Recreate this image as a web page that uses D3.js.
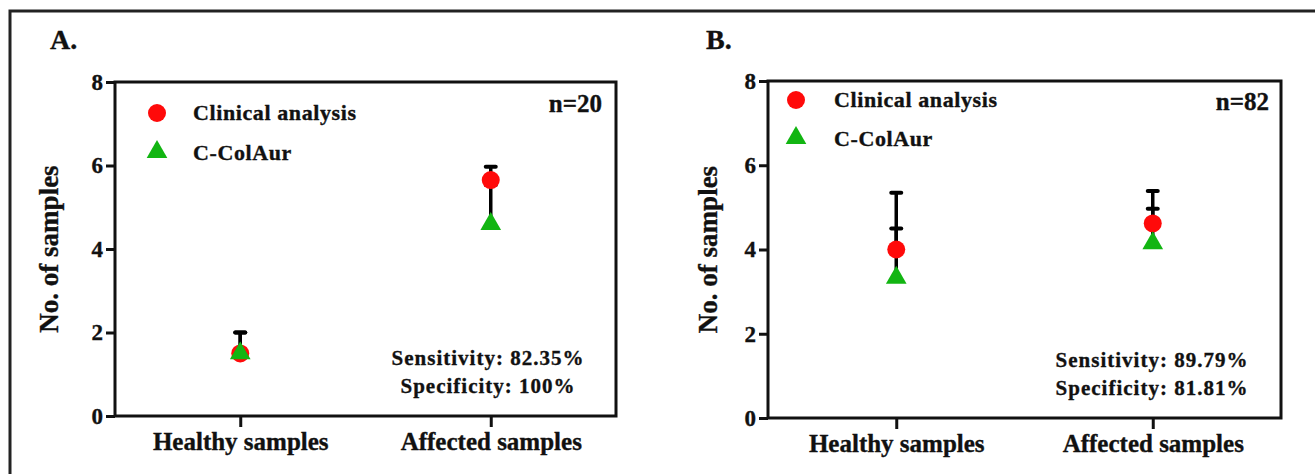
<!DOCTYPE html>
<html>
<head>
<meta charset="utf-8">
<script src="https://cdn.jsdelivr.net/npm/d3@7"></script>
<style>
  body { margin: 0; background: #fff; }
  text { font-family: "Liberation Serif", "Times New Roman", serif; font-weight: bold; fill: #111; stroke: #111; stroke-width: 0.35px; }
</style>
</head>
<body>
<script>
const W = 1315, H = 474;

// data
const categories = ["Healthy samples", "Affected samples"];
const yTicks = [0, 2, 4, 6, 8];
const seriesNames = ["Clinical analysis", "C-ColAur"];

const a_clinical = [1.5, 5.65];
const a_clinicalSD = [0.5, 0.32];
const a_colaur = [1.5, 4.6];
const a_colaurSD = [0.5, 0.93];

const b_clinical = [4.0, 4.62];
const b_clinicalSD = [1.35, 0.77];
const b_colaur = [3.33, 4.15];
const b_colaurSD = [1.17, 0.82];

const red = "#ff0a0a";
const green = "#12b512";

let svg = d3.select("body").append("svg")
  .attr("width", W)
  .attr("height", H);

// outer frame (only top and left edges fall inside the picture)
svg.append("rect")
  .attr("x", 10).attr("y", 11)
  .attr("width", W + 20).attr("height", H + 20)
  .attr("fill", "none").attr("stroke", "#222").attr("stroke-width", 3);

const panels = [
  {
    letter: "A.", letterX: 50,
    left: 115, right: 616, top: 82, bottom: 416,
    titleX: 58,
    clinical: a_clinical, clinicalSD: a_clinicalSD,
    colaur: a_colaur, colaurSD: a_colaurSD,
    n: "n=20", nX: 602, nY: 112,
    legX: 157, legTextX: 193, legY: [113, 153],
    stats: ["Sensitivity: 82.35%", "Specificity: 100%"], statsX: 488, statsY: [365, 393]
  },
  {
    letter: "B.", letterX: 706,
    left: 768, right: 1281, top: 81, bottom: 418,
    titleX: 717,
    clinical: b_clinical, clinicalSD: b_clinicalSD,
    colaur: b_colaur, colaurSD: b_colaurSD,
    n: "n=82", nX: 1269, nY: 110,
    legX: 796, legTextX: 834, legY: [100, 139],
    stats: ["Sensitivity: 89.79%", "Specificity: 81.81%"], statsX: 1152, statsY: [367, 395]
  }
];

let triangle = d3.symbol().type(d3.symbolTriangle).size(185);

panels.forEach(function(p){
  let w = p.right - p.left;
  let h = p.bottom - p.top;

  svg.append("text")
    .attr("x", p.letterX).attr("y", 49)
    .style("font-size", "28px")
    .text(p.letter);

  let g = svg.append("g")
    .attr("transform", "translate(" + p.left + "," + p.top + ")");

  let x = d3.scalePoint().domain(categories).range([0, w]).padding(0.5);
  let y = d3.scaleLinear().domain([0, 8]).range([h, 0]);

  // y axis
  let yAxis = g.append("g")
    .call(d3.axisLeft(y).tickValues(yTicks).tickSize(9).tickSizeOuter(0).tickPadding(3));
  yAxis.selectAll("text").style("font-size", "23px").style("font-family", "Liberation Serif").style("font-weight", "bold");
  yAxis.selectAll("line").attr("stroke", "#111").attr("stroke-width", 3);
  yAxis.select(".domain").remove();

  // x axis
  let xAxis = g.append("g")
    .attr("transform", "translate(0," + h + ")")
    .call(d3.axisBottom(x).tickSize(11).tickSizeOuter(0).tickPadding(5));
  xAxis.selectAll("text").style("font-size", "25px").style("font-family", "Liberation Serif").style("font-weight", "bold");
  xAxis.selectAll("line").attr("stroke", "#111").attr("stroke-width", 3);
  xAxis.select(".domain").remove();

  // frame
  g.append("rect")
    .attr("width", w).attr("height", h)
    .attr("fill", "none").attr("stroke", "#111").attr("stroke-width", 3);

  // y title
  svg.append("text")
    .attr("transform", "translate(" + p.titleX + "," + (p.top + h / 2) + ") rotate(-90)")
    .attr("text-anchor", "middle")
    .style("font-size", "27px")
    .text("No. of samples");

  // error bars (upper only)
  let bars = [];
  categories.forEach(function(c, i){
    bars.push({c: c, mean: p.clinical[i], sd: p.clinicalSD[i]});
    bars.push({c: c, mean: p.colaur[i], sd: p.colaurSD[i]});
  });
  g.selectAll(".err").data(bars).enter().append("line")
    .attr("x1", d => x(d.c)).attr("x2", d => x(d.c))
    .attr("y1", d => y(d.mean)).attr("y2", d => y(d.mean + d.sd))
    .attr("stroke", "#000").attr("stroke-width", 3.5);
  g.selectAll(".cap").data(bars).enter().append("line")
    .attr("x1", d => x(d.c) - 5).attr("x2", d => x(d.c) + 5)
    .attr("y1", d => y(d.mean + d.sd)).attr("y2", d => y(d.mean + d.sd))
    .attr("stroke", "#000").attr("stroke-width", 4).attr("stroke-linecap", "round");

  // points
  g.selectAll(".clin").data(categories).enter().append("circle")
    .attr("cx", d => x(d)).attr("cy", (d, i) => y(p.clinical[i]))
    .attr("r", 9).attr("fill", red);
  g.selectAll(".col").data(categories).enter().append("path")
    .attr("d", triangle)
    .attr("transform", (d, i) => "translate(" + x(d) + "," + y(p.colaur[i]) + ")")
    .attr("fill", green);

  // legend
  svg.append("circle")
    .attr("cx", p.legX).attr("cy", p.legY[0]).attr("r", 9).attr("fill", red);
  svg.append("path")
    .attr("d", triangle)
    .attr("transform", "translate(" + p.legX + "," + (p.legY[1] - 1) + ")")
    .attr("fill", green);
  seriesNames.forEach(function(s, i){
    svg.append("text")
      .attr("x", p.legTextX).attr("y", p.legY[i] + 7)
      .style("font-size", "22px").style("letter-spacing", "0.6px")
      .text(s);
  });

  svg.append("text")
    .attr("x", p.nX).attr("y", p.nY)
    .attr("text-anchor", "end")
    .style("font-size", "25px")
    .text(p.n);

  p.stats.forEach(function(s, i){
    svg.append("text")
      .attr("x", p.statsX).attr("y", p.statsY[i])
      .attr("text-anchor", "middle")
      .style("font-size", "21px").style("letter-spacing", "1px")
      .text(s);
  });
});
</script>
</body>
</html>
